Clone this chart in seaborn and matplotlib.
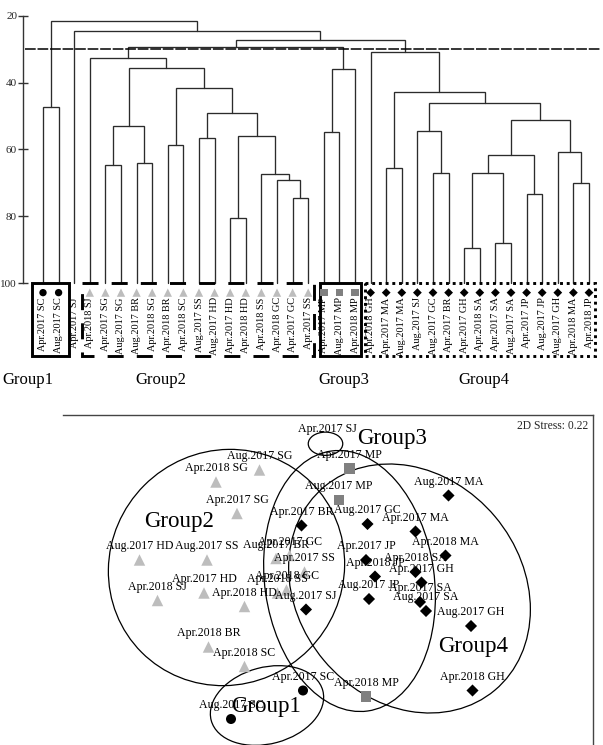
import numpy as np
import pandas as pd
import matplotlib
matplotlib.use("Agg")
import matplotlib.pyplot as plt
from matplotlib.patches import Ellipse, Rectangle
import seaborn as sns

sns.set_theme(style="white")
plt.rcParams["font.family"] = ["Liberation Serif", "DejaVu Serif"]

# ---------------------------------------------------------------- data
# Dendrogram leaves, left to right
leaf_labels = [
    "Apr.2017 SC", "Aug.2017 SC", "Apr.2017 SJ", "Apr.2018 SJ", "Apr.2017 SG",
    "Aug.2017 SG", "Aug.2017 BR", "Apr.2018 SG", "Apr.2018 BR", "Apr.2018 SC",
    "Aug.2017 SS", "Aug.2017 HD", "Apr.2017 HD", "Apr.2018 HD", "Apr.2018 SS",
    "Apr.2018 GC", "Apr.2017 GC", "Apr.2017 SS", "Apr.2017 MP", "Aug.2017 MP",
    "Apr.2018 MP", "Apr.2018 GH", "Apr.2017 MA", "Aug.2017 MA", "Aug.2017 SJ",
    "Aug.2017 GC", "Apr.2017 BR", "Apr.2017 GH", "Apr.2018 SA", "Apr.2017 SA",
    "Aug.2017 SA", "Apr.2017 JP", "Aug.2017 JP", "Aug.2017 GH", "Apr.2018 MA",
    "Apr.2018 JP",
]
leaf_groups = (["Group1"] * 2 + ["none"] + ["Group2"] * 15
               + ["Group3"] * 3 + ["Group4"] * 15)

# Cluster merges: (name, child a, child b, similarity %)
merges = [
    ("A", 27, 28, 89.6), ("B", 29, 30, 88.0), ("C", 12, 13, 80.6),
    ("D", 16, 17, 74.6), ("E", 31, 32, 73.4), ("F", 34, 35, 69.9),
    ("G", 15, "D", 69.1), ("H", 14, "G", 67.4), ("I", "A", "B", 67.1),
    ("J", 25, 26, 66.9), ("K", 22, 23, 65.6), ("L", 4, 5, 64.5),
    ("M", 6, 7, 64.0), ("N", "I", "E", 61.7), ("O", 33, "F", 60.8),
    ("P", 8, 9, 58.6), ("Q", 10, 11, 56.6), ("R", "C", "H", 56.0),
    ("S", 18, 19, 54.7), ("T", 24, "J", 54.5), ("U", "L", "M", 53.1),
    ("V", "N", "O", 51.3), ("X", "Q", "R", 49.1), ("W", 0, 1, 47.2),
    ("Y", "T", "V", 46.0), ("Z", "K", "Y", 42.7), ("AA", "P", "X", 41.6),
    ("AB", "S", 20, 35.9), ("AC", "U", "AA", 35.7), ("AE", 3, "AC", 32.7),
    ("AD", 21, "Z", 30.8), ("AF", "AE", "AB", 29.3), ("AG", "AF", "AD", 27.3),
    ("AH", 2, "AG", 24.5), ("AI", "W", "AH", 21.5),
]
cut_level = 30
sim_ticks = [20, 40, 60, 80, 100]

# NMDS ordination
nmds_labels = [
    "Apr.2017 SC", "Aug.2017 SC", "Apr.2017 SJ",
    "Aug.2017 SG", "Apr.2018 SG", "Apr.2017 SG", "Aug.2017 HD", "Aug.2017 SS",
    "Aug.2017 BR", "Apr.2017 GC", "Apr.2017 SS", "Apr.2018 GC", "Apr.2018 SS",
    "Apr.2017 HD", "Apr.2018 SJ", "Apr.2018 HD", "Apr.2018 BR", "Apr.2018 SC",
    "Apr.2017 MP", "Aug.2017 MP", "Apr.2018 MP",
    "Aug.2017 MA", "Apr.2017 BR", "Aug.2017 GC", "Apr.2017 MA", "Apr.2018 MA",
    "Apr.2017 JP", "Apr.2018 JP", "Aug.2017 JP", "Aug.2017 SJ", "Apr.2018 SA",
    "Apr.2017 GH", "Apr.2017 SA", "Aug.2017 SA", "Aug.2017 GH", "Apr.2018 GH",
]
nmds1 = [-0.18, -0.66, -0.02,
         -0.47, -0.76, -0.62, -1.27, -0.82, -0.36, -0.27, -0.17, -0.29, -0.35,
         -0.84, -1.15, -0.57, -0.81, -0.57,
         0.13, 0.06, 0.24,
         0.79, -0.19, 0.25, 0.57, 0.77, 0.24, 0.30, 0.26, -0.16, 0.57,
         0.61, 0.60, 0.64, 0.94, 0.95]
nmds2 = [-0.77, -0.96, 0.88,
         0.70, 0.62, 0.41, 0.10, 0.10, 0.11, 0.13, 0.02, -0.10, -0.12,
         -0.12, -0.17, -0.21, -0.48, -0.61,
         0.71, 0.50, -0.81,
         0.53, 0.33, 0.34, 0.29, 0.13, 0.10, -0.01, -0.16, -0.23, 0.02,
         -0.05, -0.18, -0.24, -0.34, -0.77]
nmds_groups = (["Group1"] * 2 + ["none"] + ["Group2"] * 15
               + ["Group3"] * 3 + ["Group4"] * 15)
stress = 0.22

# Group envelopes on the ordination: centre x, centre y, width, height, angle
envelopes = {
    "Group1": (-0.42, -0.87, 0.77, 0.51, 15),
    "SJ": (-0.03, 0.875, 0.23, 0.155, 0),
    "Group2": (-0.69, 0.05, 1.60, 1.55, 45),
    "Group3": (0.13, -0.04, 1.13, 1.75, 8),
    "Group4": (0.53, -0.09, 1.49, 1.77, 40),
}
group_names = ["Group1", "Group2", "Group3", "Group4"]

# ---------------------------------------------------------------- style
markers = {"Group1": "o", "Group2": "^", "Group3": "s", "Group4": "D"}
palette = {"Group1": "black", "Group2": "#bdbdbd", "Group3": "#808080",
           "Group4": "black"}
dendro_sizes = {"Group1": 28, "Group2": 36, "Group3": 30, "Group4": 20}
nmds_sizes = {"Group1": 52, "Group2": 68, "Group3": 60, "Group4": 38}

fig = plt.figure(figsize=(6.03, 7.45), dpi=100)

# ---------------------------------------------------------------- dendrogram
ax = fig.add_axes([23 / 603, 1 - 400 / 745, 577 / 603, 390 / 745])
n = len(leaf_labels)
pos = {i: float(i) for i in range(n)}
hgt = {i: 100.0 for i in range(n)}
for name, a, b, h in merges:
    xa, xb = pos[a], pos[b]
    ax.plot([xa, xa, xb, xb], [hgt[a], h, h, hgt[b]],
            color="#2b2b2b", lw=0.95, solid_joinstyle="miter")
    pos[name] = (xa + xb) / 2
    hgt[name] = h

ax.axhline(cut_level, xmin=0.003, xmax=1, color="black", lw=1.1,
           ls=(0, (7, 1.2)))

leaves = pd.DataFrame({"pos": np.arange(n), "label": leaf_labels,
                       "group": leaf_groups})
marked = leaves[leaves["group"] != "none"].assign(level=102.8)
sns.scatterplot(data=marked, x="pos", y="level", hue="group", style="group",
                size="group", sizes=dendro_sizes, markers=markers,
                palette=palette, edgecolor="none", legend=False, ax=ax,
                clip_on=False, zorder=5)
for i, lab in enumerate(leaf_labels):
    ax.text(i, 104.2, lab, rotation=90, ha="center", va="top",
            fontsize=7.4, color="black")

box_pad = {"Group1": (0.68, 0.67), "Group2": (0.52, 0.38),
           "Group3": (0.26, 0.36), "Group4": (0.36, 0.38)}
box_ls = {"Group1": "-", "Group2": (0, (5.5, 4.5)), "Group3": "-",
          "Group4": (0, (1, 1.3))}
box_top, box_bottom = 100.0, 121.7
for g in group_names:
    idx = leaves.index[leaves["group"] == g]
    x0 = idx.min() - box_pad[g][0]
    x1 = idx.max() + box_pad[g][1]
    ax.add_patch(Rectangle((x0, box_top), x1 - x0, box_bottom - box_top,
                           fill=False, ec="black", lw=2.1, ls=box_ls[g],
                           capstyle="butt", clip_on=False, zorder=4))

group_label_x = {"Group1": -0.99, "Group2": 7.53, "Group3": 19.3,
                 "Group4": 28.24}
for g in group_names:
    ax.text(group_label_x[g], 128.9, g, ha="center", va="center",
            fontsize=12, color="black")

ax.set_xlim(-1.282, 35.705)
ax.set_ylim(134.9, 18.3)
ax.set_yticks(sim_ticks)
ax.set_xticks([])
for s in ["top", "right", "bottom"]:
    ax.spines[s].set_visible(False)
ax.spines["left"].set_bounds(20, 100)
ax.spines["left"].set_color("#333333")
ax.spines["left"].set_linewidth(1.0)
ax.tick_params(axis="y", direction="inout", length=6.5, width=1.0,
               color="#333333", labelsize=8, pad=1, left=True)
ax.set_xlabel("")
ax.set_ylabel("")
ax.patch.set_alpha(0)

# ---------------------------------------------------------------- NMDS
bx = fig.add_axes([63 / 603, 0, 530 / 603, 330 / 745])
ord_df = pd.DataFrame({"NMDS1": nmds1, "NMDS2": nmds2,
                       "label": nmds_labels, "group": nmds_groups})

for key, (cx, cy, w, h, ang) in envelopes.items():
    bx.add_patch(Ellipse((cx, cy), w, h, angle=ang, fill=False,
                         ec="black", lw=0.9, zorder=2))

pts = ord_df[ord_df["group"] != "none"]
sns.scatterplot(data=pts, x="NMDS1", y="NMDS2", hue="group", style="group",
                size="group", sizes=nmds_sizes, markers=markers,
                palette=palette, edgecolor="none", legend=False, ax=bx,
                zorder=3)
for _, r in ord_df.iterrows():
    bx.annotate(r["label"], (r["NMDS1"], r["NMDS2"]), xytext=(0, 9.8),
                textcoords="offset points", ha="center", va="center",
                fontsize=8.6, color="black", zorder=4)

group_label_pos = {"Group1": (-0.43, -0.878), "Group2": (-1.007, 0.355),
                   "Group3": (0.413, 0.907), "Group4": (0.953, -0.478)}
for g, (gx, gy) in group_label_pos.items():
    bx.text(gx, gy, g, ha="center", va="center", fontsize=16.5,
            color="black", zorder=5)

bx.text(0.99, 0.967, f"2D Stress: {stress:.2f}", transform=bx.transAxes,
        ha="right", va="center", fontsize=8.4)

bx.set_xlim(-1.78, 1.7533)
bx.set_ylim(-1.1333, 1.0667)
bx.set_xticks([])
bx.set_yticks([])
bx.set_xlabel("")
bx.set_ylabel("")
for s in ["left", "bottom"]:
    bx.spines[s].set_visible(False)
for s in ["top", "right"]:
    bx.spines[s].set_color("#444444")
    bx.spines[s].set_linewidth(1.0)

fig.savefig("out.png", dpi=100)
